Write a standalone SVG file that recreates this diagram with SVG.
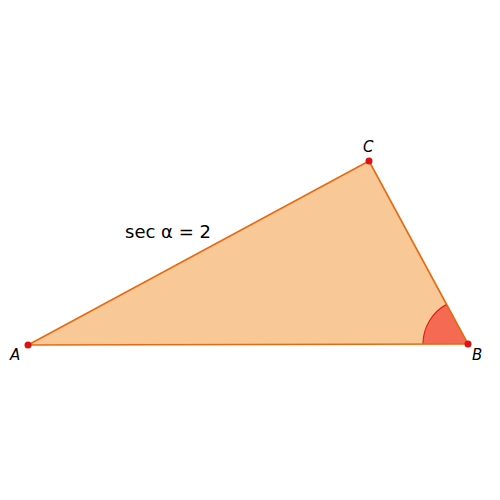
<svg xmlns="http://www.w3.org/2000/svg" width="500" height="500" viewBox="0 0 500 500">
<style>
.pt{fill:#dd1111}
.lbl{font-family:"DejaVu Sans",sans-serif;font-style:italic;font-size:15px;fill:#000}
</style>
<rect width="500" height="500" fill="#fff"/>
<g id="triangle">
<polygon points="28,345 468,344 369,161" fill="#f9c897" stroke="none"/>
</g>
<g id="angle">
<path d="M468,344 L423,344 A45,45 0 0 1 446.6,304.4 Z" fill="#f46a52" stroke="none"/>
<path d="M423,344 A45,45 0 0 1 446.6,304.4" fill="none" stroke="#dd2222" stroke-width="1.2"/>
</g>
<g id="connectors" stroke="#e86a10" stroke-width="1.6" fill="none">
<line x1="28" y1="345" x2="468" y2="344"/>
<line x1="468" y1="344" x2="369" y2="161"/>
<line x1="369" y1="161" x2="28" y2="345"/>
</g>
<g id="A"><circle class="pt" cx="28" cy="345" r="3.5"/><text class="lbl" x="10" y="360">A</text></g>
<g id="B"><circle class="pt" cx="468" cy="344" r="3.5"/><text class="lbl" x="472" y="360">B</text></g>
<g id="C"><circle class="pt" cx="369" cy="161" r="3.5"/><text class="lbl" x="363" y="152">C</text></g>
<text x="125" y="238" font-family="DejaVu Sans,sans-serif" font-size="18">sec α = 2</text>
</svg>
